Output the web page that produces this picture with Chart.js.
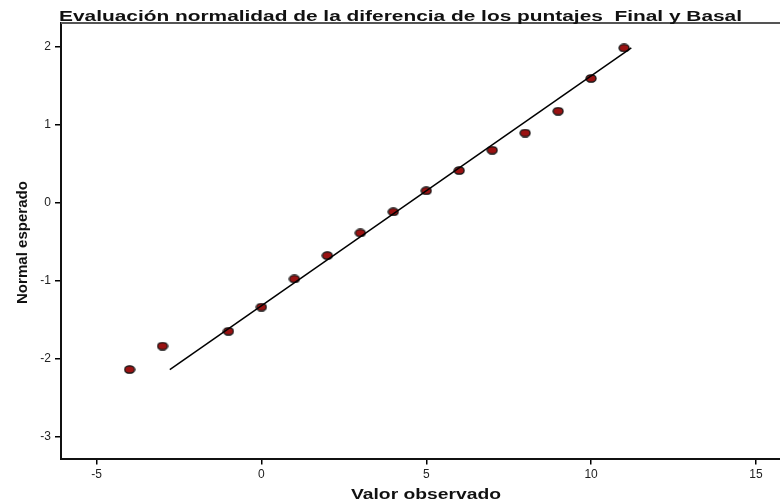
<!DOCTYPE html>
<html>
<head>
<meta charset="utf-8">
<script src="https://cdn.jsdelivr.net/npm/chart.js@4/dist/chart.umd.min.js"></script>
<style>
    body { margin: 0; background: #fff; }
    #wrap { width: 780px; height: 504px; position: relative; }
</style>
</head>
<body>
<div id="wrap"><canvas id="qq-chart"></canvas></div>
<script>
// Observed values (difference Final - Basal) and expected normal quantiles
const observed = [-4, -3, -1, 0, 1, 2, 3, 4, 5, 6, 7, 8, 9, 10, 11];
const expectedNormal = [-2.14, -1.84, -1.65, -1.34, -0.98, -0.68, -0.39, -0.12, 0.15, 0.41, 0.67, 0.89, 1.17, 1.59, 1.98];

// Reference line end points
const lineX = [-2.78, 11.22];
const lineY = [-2.14, 1.98];

// Tick labels
const xTicks = [-5, 0, 5, 10, 15];
const yTicks = [-3, -2, -1, 0, 1, 2];

const titleText = 'Evaluación normalidad de la diferencia de los puntajes  Final y Basal';
const xTitle = 'Valor observado';
const yTitle = 'Normal esperado';

// Elliptical marker like the original
function makeMarker() {
    const c = document.createElement('canvas');
    c.width = 12;
    c.height = 9;
    const g = c.getContext('2d');
    g.beginPath();
    g.ellipse(6, 4.5, 5, 3.7, 0, 0, Math.PI * 2);
    g.fillStyle = '#9a1212';
    g.fill();
    g.lineWidth = 1.3;
    g.strokeStyle = '#111';
    g.stroke();
    return c;
}

function drawStretched(ctx, text, x, y, width, font, rotate) {
    ctx.save();
    ctx.font = font;
    ctx.fillStyle = '#111';
    ctx.textBaseline = 'alphabetic';
    const w = ctx.measureText(text).width;
    ctx.translate(x, y);
    if (rotate) ctx.rotate(-Math.PI / 2);
    ctx.scale(width / w, 1);
    ctx.fillText(text, 0, 0);
    ctx.restore();
}

const labelsPlugin = {
    id: 'spssLabels',
    afterDraw(chart) {
        const ctx = chart.ctx;
        const area = chart.chartArea;
        // top frame line
        ctx.save();
        ctx.strokeStyle = '#555';
        ctx.lineWidth = 2;
        ctx.beginPath();
        ctx.moveTo(area.left, area.top);
        ctx.lineTo(chart.width, area.top);
        ctx.stroke();
        ctx.restore();

        drawStretched(ctx, titleText, 59, 21, 683, 'bold 14px "Liberation Sans"');
        drawStretched(ctx, xTitle, 351, 499, 150, 'bold 15px "Liberation Sans"');
        drawStretched(ctx, yTitle, 27, 304, 123, 'bold 14px "Liberation Sans"', true);
    }
};

const points = observed.map((x, i) => ({ x: x, y: expectedNormal[i] }));
const linePoints = lineX.map((x, i) => ({ x: x, y: lineY[i] }));

new Chart(document.getElementById('qq-chart'), {
    type: 'scatter',
    data: {
        datasets: [{
            label: 'Recta',
            data: linePoints,
            showLine: true,
            borderColor: '#000',
            borderWidth: 1.5,
            pointRadius: 0,
            order: 0
        }, {
            label: 'Observado',
            data: points,
            pointStyle: makeMarker(),
            order: 1
        }]
    },
    options: {
        responsive: true,
        maintainAspectRatio: false,
        animation: false,
        layout: { autoPadding: false, padding: { top: 23, right: 0, left: 0, bottom: 0 } },
        plugins: {
            legend: { display: false },
            title: { display: false },
            tooltip: { enabled: false }
        },
        scales: {
            x: {
                type: 'linear',
                min: -6.08,
                max: 15.73,
                afterBuildTicks: (scale) => { scale.ticks = xTicks.map(v => ({ value: v })); },
                afterFit: (scale) => {
                    scale.height = 45.5;
                    scale.paddingLeft = 0;
                    scale.paddingRight = 0;
                },
                grid: { display: true, drawOnChartArea: false, drawTicks: true, tickLength: 6, color: '#000', lineWidth: 1.5 },
                border: { display: true, color: '#111', width: 2 },
                ticks: { color: '#222', font: { family: 'Liberation Sans', size: 12 }, padding: 3, maxRotation: 0 }
            },
            y: {
                type: 'linear',
                min: -3.28,
                max: 2.30,
                afterBuildTicks: (scale) => { scale.ticks = yTicks.map(v => ({ value: v })); },
                afterFit: (scale) => {
                    scale.width = 61;
                    scale.paddingTop = 0;
                    scale.paddingBottom = 0;
                },
                grid: { display: true, drawOnChartArea: false, drawTicks: true, tickLength: 6, color: '#000', lineWidth: 1.5 },
                border: { display: true, color: '#111', width: 2 },
                ticks: { color: '#222', font: { family: 'Liberation Sans', size: 12 }, padding: 4 }
            }
        }
    },
    plugins: [labelsPlugin]
});
</script>
</body>
</html>
